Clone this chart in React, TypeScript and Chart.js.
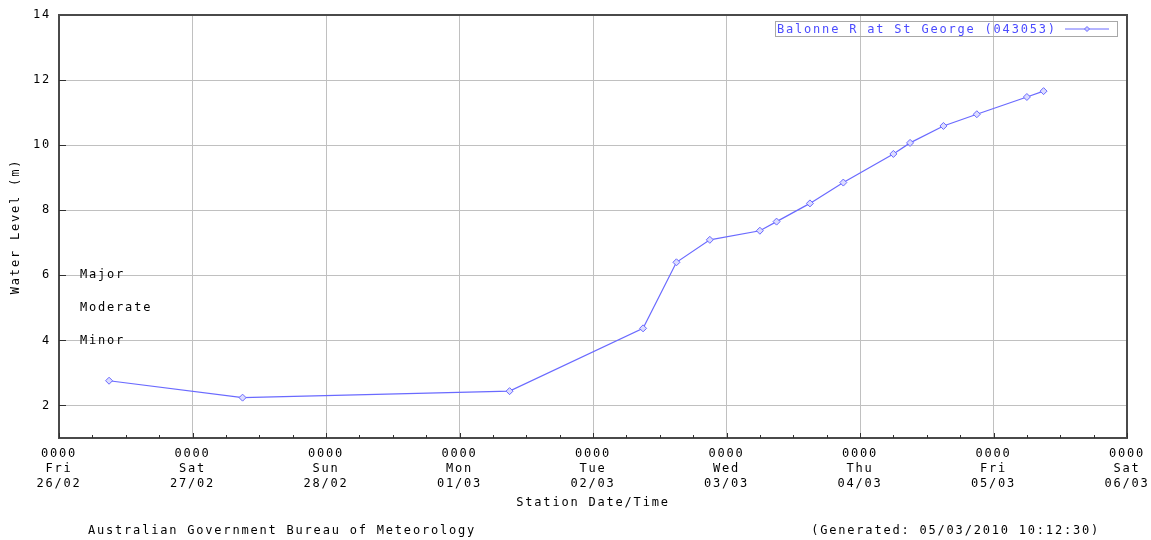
import React, { useEffect, useRef } from "react";
import { Chart, registerables } from "chart.js";

Chart.register(...registerables);

// Hours after 0000 Fri 26/02
const obsHours = [9, 33, 81, 105, 111, 117, 126, 129, 135, 141, 150, 153, 159, 165, 174, 177];
const waterLevels = [2.76, 2.24, 2.44, 4.37, 6.4, 7.09, 7.37, 7.65, 8.21, 8.85, 9.73, 10.07, 10.59, 10.95, 11.48, 11.66];

const dayNames = ["Fri", "Sat", "Sun", "Mon", "Tue", "Wed", "Thu", "Fri", "Sat"];
const dayDates = ["26/02", "27/02", "28/02", "01/03", "02/03", "03/03", "04/03", "05/03", "06/03"];
const yTickValues = [2, 4, 6, 8, 10, 12, 14];
const floodLabels = ["Major", "Moderate", "Minor"];
const floodValues = [6, 5, 4];

const seriesName = "Balonne R at St George (043053)";
const footerLeft = "Australian Government Bureau of Meteorology";
const footerRight = "(Generated: 05/03/2010 10:12:30)";

const FONT_FAMILY = "'DejaVu Sans Mono', 'Liberation Mono', monospace";
const FONT = `12px ${FONT_FAMILY}`;
const SPACING = "1.8px";
const LINE_COLOR = "#6a6aff";

const xTickHours: number[] = [];
for (let h = 0; h <= dayNames.length * 24 - 24; h += 6) xTickHours.push(h);

export default function App() {
  const canvasRef = useRef<HTMLCanvasElement | null>(null);

  useEffect(() => {
    const canvas = canvasRef.current;
    if (!canvas) return;

    const spacingPlugin = {
      id: "spacing",
      beforeLayout(chart: any) {
        chart.ctx.letterSpacing = SPACING;
      },
      beforeDraw(chart: any) {
        const ctx = chart.ctx;
        ctx.letterSpacing = SPACING;
        ctx.save();
        ctx.fillStyle = "#ffffff";
        ctx.fillRect(0, 0, chart.width, chart.height);
        ctx.restore();
      },
    };

    const decoPlugin = {
      id: "deco",
      afterDatasetsDraw(chart: any) {
        const ctx = chart.ctx;
        const { left, right, top, bottom } = chart.chartArea;
        const xs = chart.scales.x;
        const ys = chart.scales.y;
        ctx.save();
        ctx.letterSpacing = SPACING;
        // border
        ctx.strokeStyle = "#4a4a4a";
        ctx.lineWidth = 2;
        ctx.strokeRect(left, top, right - left, bottom - top);
        // inward ticks
        ctx.lineWidth = 1;
        ctx.strokeStyle = "#303030";
        xTickHours.forEach((h) => {
          const px = Math.round(xs.getPixelForValue(h)) + 0.5;
          const len = h % 24 === 0 ? 5 : 3;
          ctx.beginPath();
          ctx.moveTo(px, bottom);
          ctx.lineTo(px, bottom - len);
          ctx.stroke();
        });
        yTickValues.forEach((v) => {
          if (v >= 14) return;
          const py = Math.round(ys.getPixelForValue(v)) + 0.5;
          ctx.beginPath();
          ctx.moveTo(left, py);
          ctx.lineTo(left + 7, py);
          ctx.stroke();
        });
        // flood class labels
        ctx.font = FONT;
        ctx.fillStyle = "#000000";
        ctx.textBaseline = "middle";
        ctx.textAlign = "left";
        floodLabels.forEach((lab, i) => {
          ctx.fillText(lab, left + 21, ys.getPixelForValue(floodValues[i]));
        });
        // legend
        const tw = ctx.measureText(seriesName).width;
        const boxW = Math.round(tw + 62);
        const boxR = right - 10;
        const boxL = boxR - boxW;
        const boxT = top + 6;
        const boxH = 15;
        ctx.strokeStyle = "#a8a8a8";
        ctx.lineWidth = 1;
        ctx.strokeRect(boxL + 0.5, boxT + 0.5, boxW, boxH);
        ctx.fillStyle = "#4c4cff";
        ctx.fillText(seriesName, boxL + 2, boxT + boxH / 2 + 1);
        const ly = boxT + boxH / 2 + 0.5;
        const lx1 = boxR - 52;
        const lx2 = boxR - 8;
        ctx.strokeStyle = LINE_COLOR;
        ctx.beginPath();
        ctx.moveTo(lx1, ly);
        ctx.lineTo(lx2, ly);
        ctx.stroke();
        const mx = (lx1 + lx2) / 2;
        ctx.beginPath();
        ctx.moveTo(mx, ly - 2.5);
        ctx.lineTo(mx + 2.5, ly);
        ctx.lineTo(mx, ly + 2.5);
        ctx.lineTo(mx - 2.5, ly);
        ctx.closePath();
        ctx.fillStyle = "#c8c8ff";
        ctx.fill();
        ctx.stroke();
        // footer
        ctx.fillStyle = "#000000";
        ctx.textAlign = "left";
        ctx.fillText(footerLeft, 88, 531);
        ctx.textAlign = "right";
        ctx.fillText(footerRight, 1100, 531);
        ctx.restore();
      },
    };

    const chart = new Chart(canvas, {
      type: "line",
      data: {
        datasets: [
          {
            label: seriesName,
            data: obsHours.map((h, i) => ({ x: h, y: waterLevels[i] })),
            borderColor: LINE_COLOR,
            borderWidth: 1.2,
            backgroundColor: "#d0d0ff",
            pointStyle: "rectRot",
            pointRadius: 3.5,
            pointBorderWidth: 1,
            pointBorderColor: LINE_COLOR,
            pointBackgroundColor: "#dcdcff",
            tension: 0,
            fill: false,
          },
        ],
      },
      options: {
        responsive: false,
        animation: false,
        events: [],
        layout: { padding: { top: 15, right: 24, left: 0, bottom: 0 } },
        plugins: {
          legend: { display: false },
          tooltip: { enabled: false },
        },
        scales: {
          x: {
            type: "linear",
            min: 0,
            max: (dayNames.length - 1) * 24,
            afterBuildTicks: (scale: any) => {
              scale.ticks = xTickHours.map((h) => ({ value: h }));
            },
            afterFit: (scale: any) => {
              scale.height = 102;
              scale.paddingLeft = 0;
              scale.paddingRight = 0;
            },
            grid: {
              drawTicks: false,
              color: (c: any) => (c.tick && c.tick.value % 24 === 0 ? "#c0c0c0" : "rgba(0,0,0,0)"),
              lineWidth: 1,
            },
            border: { display: false },
            ticks: {
              autoSkip: false,
              maxRotation: 0,
              padding: 8,
              color: "#000000",
              font: { family: FONT_FAMILY, size: 12, lineHeight: 1.25 },
              callback: (v: any) => {
                const n = Number(v);
                if (n % 24 !== 0) return "";
                const d = n / 24;
                return ["0000", dayNames[d], dayDates[d]];
              },
            },
            title: {
              display: true,
              text: "Station Date/Time",
              color: "#000000",
              font: { family: FONT_FAMILY, size: 12, lineHeight: 1.25 },
              padding: { top: 0, bottom: 29.5 },
            },
          },
          y: {
            type: "linear",
            min: 1,
            max: 14,
            afterBuildTicks: (scale: any) => {
              scale.ticks = yTickValues.map((v) => ({ value: v }));
            },
            afterFit: (scale: any) => {
              scale.width = 59;
              scale.paddingTop = 0;
              scale.paddingBottom = 0;
            },
            grid: {
              drawTicks: false,
              color: "#c0c0c0",
              lineWidth: 1,
            },
            border: { display: false },
            ticks: {
              padding: 8,
              color: "#000000",
              font: { family: FONT_FAMILY, size: 12, lineHeight: 1.25 },
              callback: (v: any) => String(v),
            },
            title: {
              display: true,
              text: "Water Level (m)",
              color: "#000000",
              font: { family: FONT_FAMILY, size: 12, lineHeight: 1.25 },
              padding: { top: 8.5, bottom: 0 },
            },
          },
        },
      },
      plugins: [spacingPlugin, decoPlugin],
    } as any);

    return () => chart.destroy();
  }, []);

  return (
    <div style={{ position: "absolute", left: 0, top: 0, width: 1151, height: 540, background: "#fff" }}>
      <canvas ref={canvasRef} width={1151} height={540} style={{ display: "block" }} />
    </div>
  );
}
